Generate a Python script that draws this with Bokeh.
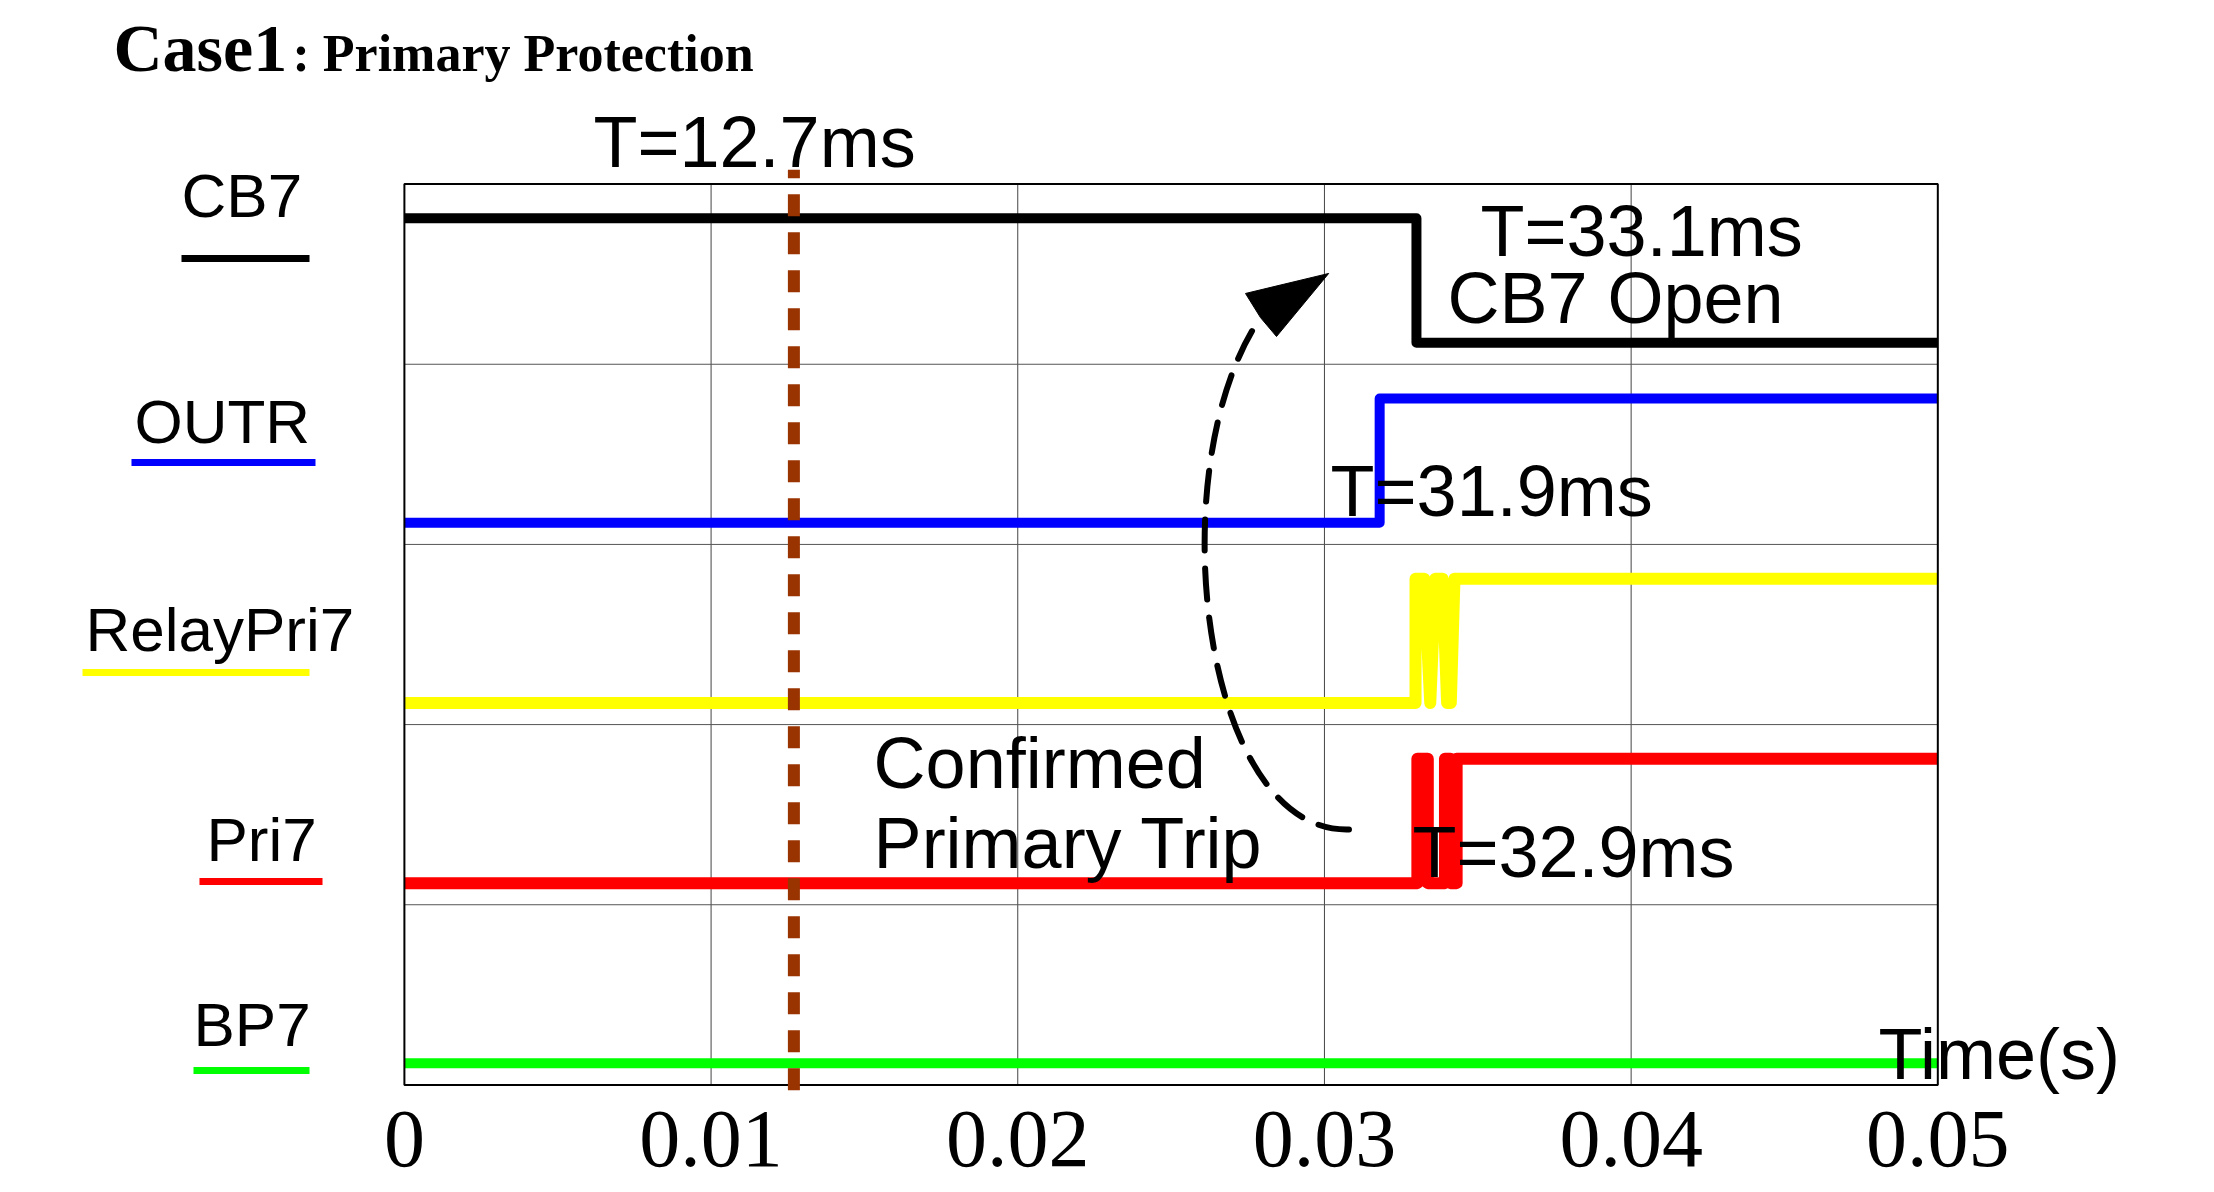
from bokeh.plotting import figure
from bokeh.models import Label, FixedTicker, LinearAxis
from bokeh.embed import file_html
from bokeh.resources import INLINE

# ---------------- data ----------------
# lanes (top to bottom)
series_names = ["CB7", "OUTR", "RelayPri7", "Pri7", "BP7"]
series_colors = ["#000000", "#0000ff", "#ffff00", "#ff0000", "#00ff00"]
series_lanes = [4, 3, 2, 1, 0]
series_widths = [10, 10, 12, 12, 10]

# digital signals: time (s) and logic level (0/1)
cb7_t = [0.0, 0.0330, 0.0330, 0.05]
cb7_v = [1, 1, 0, 0]

outr_t = [0.0, 0.0318, 0.0318, 0.05]
outr_v = [0, 0, 1, 1]

relay_t = [0.0, 0.03297, 0.03297, 0.03325, 0.03345, 0.03362, 0.03385, 0.03400, 0.03412, 0.03424, 0.05]
relay_v = [0, 0, 1, 1, 0, 1, 1, 0, 0, 1, 1]

pri_t = [0.0, 0.03303, 0.03303, 0.03337, 0.03337, 0.03393, 0.03393, 0.03411, 0.03411, 0.03431, 0.03431, 0.05]
pri_v = [0, 0, 1, 1, 0, 0, 1, 1, 0, 0, 1, 1]

bp7_t = [0.0, 0.05]
bp7_v = [0, 0]

series_t = [cb7_t, outr_t, relay_t, pri_t, bp7_t]
series_v = [cb7_v, outr_v, relay_v, pri_v, bp7_v]

# axis ticks
x_ticks = [0.0, 0.01, 0.02, 0.03, 0.04, 0.05]
x_tick_labels = ["0", "0.01", "0.02", "0.03", "0.04", "0.05"]
lane_dividers = [1, 2, 3, 4]

# event marker
event_t = 0.0127
event_label = "T=12.7ms"

LOW = 0.12   # logic-0 level inside a lane
SPAN = 0.69  # logic-1 minus logic-0

# ---------------- figure ----------------
W, H = 2214, 1192
X0, X1 = -0.013170, 0.059022
Y0, Y1 = -0.5972, 6.0191
PX_PER_Y = H / (Y1 - Y0)

p = figure(width=W, height=H, x_range=(X0, X1), y_range=(Y0, Y1),
           output_backend="svg", toolbar_location=None,
           x_axis_location=None, y_axis_location=None,
           min_border_left=0, min_border_right=0, min_border_top=0, min_border_bottom=0)
p.background_fill_color = "white"
p.border_fill_color = "white"
p.outline_line_color = None
p.grid.visible = False

n_lanes = len(series_names)
t_min, t_max = x_ticks[0], x_ticks[-1]

# grid lines, only inside the plot box
inner_t = x_ticks[1:-1]
p.segment(x0=inner_t, y0=[0] * len(inner_t), x1=inner_t, y1=[n_lanes] * len(inner_t),
          line_color="#444444", line_width=1)
p.segment(x0=[t_min] * len(lane_dividers), y0=lane_dividers,
          x1=[t_max] * len(lane_dividers), y1=lane_dividers,
          line_color="#555555", line_width=1)

ax = LinearAxis(fixed_location=0, ticker=FixedTicker(ticks=x_ticks))
ax.major_label_overrides = dict(zip(x_ticks, x_tick_labels))
ax.axis_line_color = None
ax.major_tick_line_color = None
ax.minor_tick_line_color = None
ax.major_tick_out = 0
ax.major_tick_in = 0
ax.major_label_standoff = 27
ax.major_label_text_font = "Liberation Serif"
ax.major_label_text_font_size = "82px"
ax.major_label_text_color = "black"
p.add_layout(ax, "below")

# signals
for t, v, lane, col, w in zip(series_t, series_v, series_lanes, series_colors, series_widths):
    y = [lane + LOW + SPAN * s for s in v]
    p.line(t, y, line_color=col, line_width=w, line_join="round")

# plot box
p.quad(left=[t_min], right=[t_max], bottom=[0], top=[n_lanes],
       fill_color=None, line_color="black", line_width=2)

# event marker (dashed brown vertical)
p.segment(x0=[event_t], y0=[-0.03], x1=[event_t], y1=[5.08],
          line_color="#993300", line_width=12, line_dash="22 16")

# curved dashed arrow
p.bezier(x0=[0.03080], y0=[1.418], x1=[0.027915], y1=[4.259],
         cx0=[0.02597], cy0=[1.395], cx1=[0.02459], cy1=[3.433],
         line_color="black", line_width=6, line_dash="31 18", line_cap="round")
p.patch([0.030138, 0.027426, 0.027915, 0.028437], [4.504, 4.393, 4.259, 4.154], color="black")


def add_text(x, y, txt, font, size_px, style="normal"):
    # shift the alphabetic baseline to compensate the renderer offset
    y_adj = y + 0.333 * size_px / PX_PER_Y
    p.add_layout(Label(x=x, y=y_adj, text=txt, text_font=font, text_font_size=f"{size_px}px",
                       text_font_style=style, text_color="black",
                       text_baseline="alphabetic", text_align="left"))


# annotation texts
SANS = "Liberation Sans"
ann = [
    (0.006166, 5.103, event_label),
    (0.03509, 4.609, "T=33.1ms"),
    (0.03401, 4.232, "CB7 Open"),
    (0.03020, 3.166, "T=31.9ms"),
    (0.01530, 1.656, "Confirmed"),
    (0.01530, 1.207, "Primary Trip"),
    (0.03287, 1.162, "T=32.9ms"),
    (0.04807, 0.041, "Time(s)"),
]
for x, y, txt in ann:
    add_text(x, y, txt, SANS, 72)

# lane names with coloured underlines
name_x = [-0.007268, -0.008801, -0.010399, -0.006453, -0.006877]
name_y = [4.820, 3.566, 2.411, 1.245, 0.219]
ul_x0 = [-0.007268, -0.008899, -0.010496, -0.006682, -0.006877]
ul_x1 = [-0.003094, -0.002899, -0.003094, -0.002670, -0.003094]
ul_y = [4.587, 3.455, 2.289, 1.129, 0.080]
for nm, x, y in zip(series_names, name_x, name_y):
    add_text(x, y, nm, SANS, 62)
p.segment(x0=ul_x0, y0=ul_y, x1=ul_x1, y1=ul_y, line_color=series_colors, line_width=7)

# title
add_text(-0.009486, 5.627, "Case1", "Liberation Serif", 68, "bold")
add_text(-0.003649, 5.627, ": Primary Protection", "Liberation Serif", 52, "bold")

open("out.html", "w").write(file_html(p, INLINE))
